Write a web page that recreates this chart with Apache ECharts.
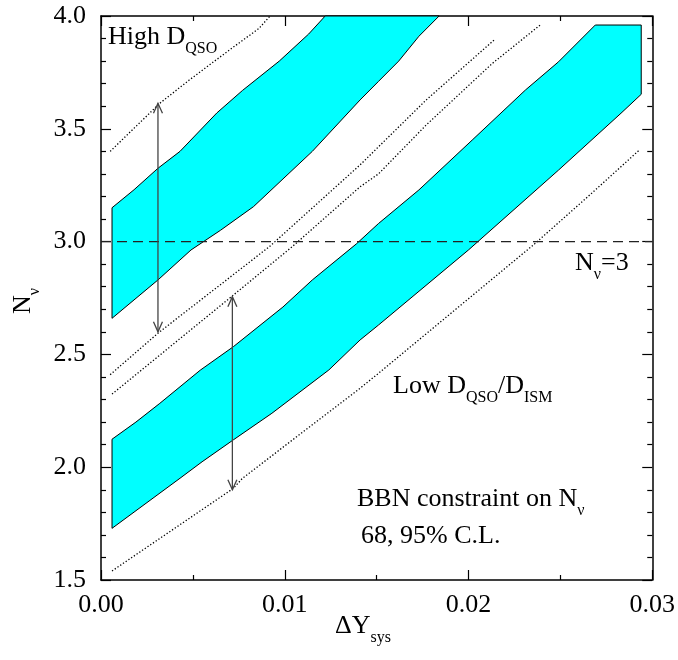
<!DOCTYPE html>
<html><head><meta charset="utf-8">
<script src="https://cdn.jsdelivr.net/npm/echarts@6/dist/echarts.min.js"></script>
<style>html,body{margin:0;padding:0;background:#fff}#c{width:678px;height:660px}</style>
</head><body><div id="c"></div>
<script>
// ---- data (x = ΔY_sys, y = N_nu) ----
const xMin = 0, xMax = 0.03, xStep = 0.01;
const yMin = 1.5, yMax = 4.0, yStep = 0.5;

// High D_QSO band (68% / 95% region), boundaries left to right
const band1Upper = [[0.0006,3.15],[0.0018,3.23],[0.0031,3.325],[0.0043,3.40],[0.0063,3.57],[0.0077,3.67],[0.0097,3.80],[0.0113,3.92],[0.0122,4.0]];
const band1Lower = [[0.0006,2.66],[0.0031,2.83],[0.0049,2.963],[0.0065,3.05],[0.0083,3.155],[0.0115,3.40],[0.0141,3.628],[0.0151,3.71],[0.0162,3.80],[0.0173,3.91],[0.0184,4.0]];

// Low D_QSO/D_ISM band
const band2Upper = [[0.0006,2.124],[0.0019,2.20],[0.0032,2.283],[0.0054,2.43],[0.0072,2.534],[0.0099,2.71],[0.0115,2.83],[0.0139,2.99],[0.0151,3.08],[0.0173,3.229],[0.0202,3.45],[0.0231,3.672],[0.0249,3.797],[0.0269,3.96],[0.0294,3.96]];
const band2Lower = [[0.0006,1.729],[0.0043,1.951],[0.0055,2.024],[0.0072,2.121],[0.0093,2.239],[0.0124,2.431],[0.0141,2.564],[0.0151,2.63],[0.0200,2.963],[0.0249,3.317],[0.0283,3.569],[0.0294,3.653]];

// dotted 95% C.L. curves
const dotHigh   = [[0.0005,3.40],[0.0032,3.613],[0.0048,3.716],[0.0070,3.85],[0.0086,3.945],[0.0092,4.0]];
const dotMidA   = [[0.0005,2.41],[0.0031,2.594],[0.0092,2.98],[0.0141,3.34],[0.0151,3.42],[0.0177,3.628],[0.0214,3.894]];
const dotMidB   = [[0.0006,2.324],[0.0071,2.756],[0.0104,2.977],[0.0141,3.243],[0.0151,3.30],[0.0177,3.517],[0.0213,3.79],[0.0239,3.96]];
const dotLow    = [[0.0006,1.54],[0.0072,1.906],[0.0077,1.951],[0.0141,2.35],[0.0151,2.416],[0.0236,2.99],[0.0267,3.214],[0.0293,3.406]];

// N_nu = 3 reference line
const nuLine = [[0,3.0],[0.03,3.0]];

// double arrows [x, yLow, yHigh]
const arrows = [[0.0031,2.60,3.613],[0.00715,1.90,2.756]];

// ---- chart ----
const F = 'Liberation Serif';
const chart = echarts.init(document.getElementById('c'));

function bandPolygon(upper, lower) {
  return upper.concat(lower.slice().reverse());
}
const band1Poly = bandPolygon(band1Upper, band1Lower);
const band2Poly = bandPolygon(band2Upper, band2Lower);

function polySeries(name, poly) {
  return {
    name: name, type: 'custom', coordinateSystem: 'cartesian2d',
    xAxisIndex: 0, yAxisIndex: 0, z: 1, silent: true,
    data: [poly[0]],
    renderItem: function (params, api) {
      const pts = poly.map(p => api.coord(p));
      return { type: 'polygon', shape: { points: pts },
        style: { fill: '#00FFFF', stroke: '#000', lineWidth: 1 } };
    }
  };
}
function dotSeries(d) {
  return { type: 'line', data: d, showSymbol: false, symbol: 'none', silent: true, z: 3,
    lineStyle: { color: '#000', width: 1.3, type: [1.3, 2] } };
}

const axisCommon = {
  type: 'value', min: xMin, max: xMax, interval: xStep,
  axisLine: { show: true, onZero: false, lineStyle: { color: '#000', width: 1.5 } },
  axisTick: { show: true, inside: true, length: 10, lineStyle: { color: '#000', width: 1.2 } },
  minorTick: { show: true, splitNumber: 2, length: 5, lineStyle: { color: '#000', width: 1.2 } },
  splitLine: { show: false }, minorSplitLine: { show: false }
};
const yCommon = Object.assign({}, axisCommon, { min: yMin, max: yMax, interval: yStep,
  minorTick: { show: true, splitNumber: 5, length: 5, lineStyle: { color: '#000', width: 1.2 } } });

const rich = {
  m: { fontSize: 26, fontFamily: F, fill: '#000', lineHeight: 30 },
  s: { fontSize: 16, fontFamily: F, fill: '#000', lineHeight: 16, padding: [23, 0, 0, 0] }
};
function txt(x, y, text, extra) {
  return Object.assign({ type: 'text', x: x, y: y, silent: true, z: 100,
    style: { text: text, rich: rich, align: 'left', verticalAlign: 'top' } }, extra || {});
}

chart.setOption({
  animation: false,
  backgroundColor: '#fff',
  grid: { left: 101, right: 24, top: 16, bottom: 80 },
  xAxis: [
    Object.assign({}, axisCommon, { position: 'bottom',
      axisLabel: { show: true, margin: 12, fontSize: 26, fontFamily: F, color: '#000',
        formatter: v => v.toFixed(2) } }),
    Object.assign({}, axisCommon, { position: 'top', axisLabel: { show: false } })
  ],
  yAxis: [
    Object.assign({}, yCommon, { position: 'left',
      axisLabel: { show: true, margin: 15, fontSize: 26, fontFamily: F, color: '#000',
        formatter: v => v.toFixed(1) } }),
    Object.assign({}, yCommon, { position: 'right', axisLabel: { show: false } })
  ],
  series: [
    polySeries('High D_QSO', band1Poly),
    polySeries('Low D_QSO/D_ISM', band2Poly),
    dotSeries(dotHigh), dotSeries(dotMidA), dotSeries(dotMidB), dotSeries(dotLow),
    { type: 'line', data: nuLine, showSymbol: false, symbol: 'none', silent: true, z: 4,
      lineStyle: { color: '#222', width: 1.3, type: [10, 6] } },
    { type: 'custom', coordinateSystem: 'cartesian2d', z: 5, silent: true, data: arrows,
      renderItem: function (params, api) {
        const x = api.value(0);
        const p1 = api.coord([x, api.value(1)]);
        const p2 = api.coord([x, api.value(2)]);
        const h = 10, w = 4.5, st = { stroke: '#444', fill: null, lineWidth: 1.3 };
        return { type: 'group', children: [
          { type: 'line', shape: { x1: p1[0], y1: p1[1], x2: p2[0], y2: p2[1] }, style: st },
          { type: 'polyline', shape: { points: [[p1[0]-w, p1[1]-h], p1, [p1[0]+w, p1[1]-h]] }, style: st },
          { type: 'polyline', shape: { points: [[p2[0]-w, p2[1]+h], p2, [p2[0]+w, p2[1]+h]] }, style: st }
        ] };
      } }
  ],
  graphic: [
    txt(108, 22, '{m|High D}{s|QSO}'),
    txt(575, 248, '{m|N}{s|ν}{m|=3}'),
    txt(393, 371, '{m|Low D}{s|QSO}{m|/D}{s|ISM}'),
    txt(357, 484, '{m|BBN constraint on N}{s|ν}'),
    txt(361, 521, '{m|68, 95% C.L.}'),
    txt(335, 611, '{m|ΔY}{s|sys}'),
    { type: 'text', x: 23, y: 301, rotation: Math.PI / 2, silent: true, z: 100,
      style: { text: '{m|N}{s|ν}', rich: rich, align: 'center', verticalAlign: 'middle' } }
  ]
});
</script>
</body></html>
